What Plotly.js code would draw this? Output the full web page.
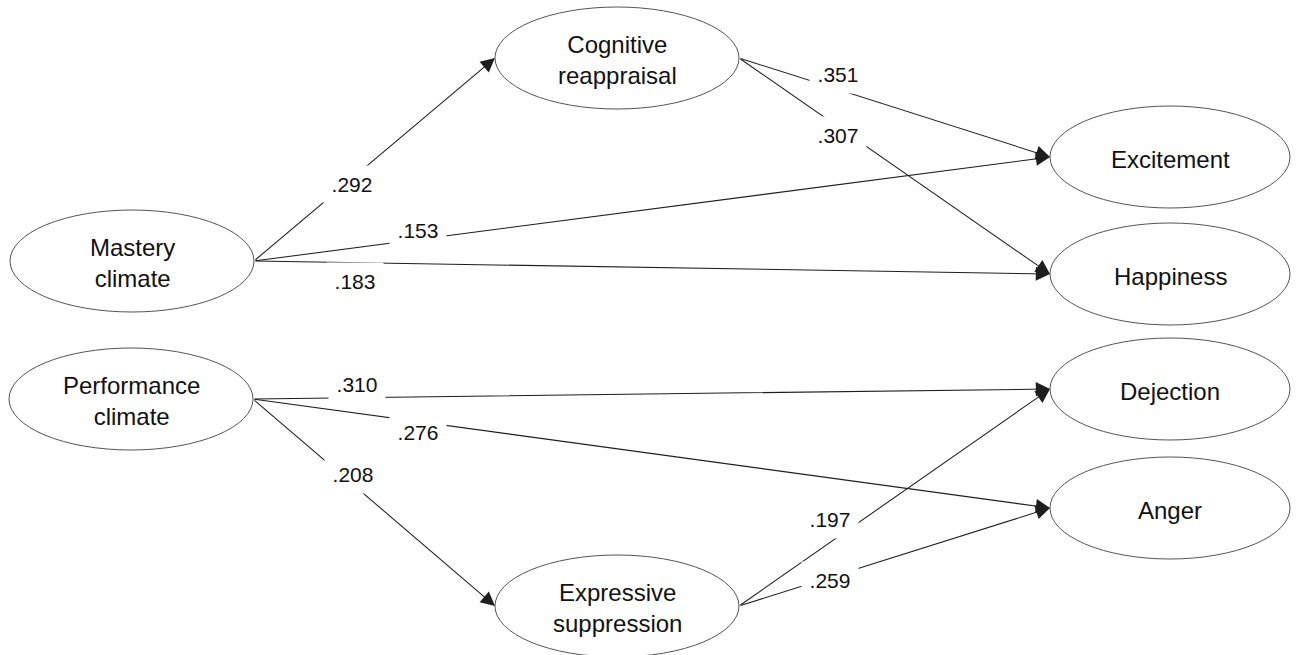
<!DOCTYPE html>
<html>
<head>
<meta charset="utf-8">
<script src="https://cdn.plot.ly/plotly-3.0.1.min.js"></script>
<style>
  html, body { margin: 0; padding: 0; background: #ffffff; }
  #chart { width: 1296px; height: 655px; }
</style>
</head>
<body>
<div id="chart"></div>
<script>
// ---------- DATA ----------
const nodeNames = [
  "Cognitive<br>reappraisal",
  "Mastery<br>climate",
  "Performance<br>climate",
  "Expressive<br>suppression",
  "Excitement",
  "Happiness",
  "Dejection",
  "Anger"
];
// paths (index into nodeNames)
const pathFrom = [1, 1, 1, 0, 0, 2, 2, 2, 3, 3];
const pathTo   = [0, 4, 5, 4, 5, 6, 7, 3, 6, 7];
const pathCoef = [0.292, 0.153, 0.183, 0.351, 0.307, 0.310, 0.276, 0.208, 0.197, 0.259];

// ---------- LAYOUT (positions / sizes, in pixels) ----------
const nodeCx = [617, 132, 131, 617, 1170, 1170, 1170, 1170];
const nodeCy = [58, 261, 399, 606, 157, 274, 389, 508];
const nodeRx = [122, 122, 122, 122, 120, 120, 120, 120];
const nodeRy = [51, 51, 51, 51, 51, 51, 51, 51];
const labelX = [352, 418, 355, 838, 838, 357, 418, 353, 830, 830];
const labelY = [184, 230, 281, 74, 135, 384, 432, 474, 519, 580];

const FONT = "Liberation Sans, Arial, Helvetica, sans-serif";
const fmt = v => v.toFixed(3).replace(/^0/, "");

const shapes = nodeNames.map((n, i) => ({
  type: "circle", xref: "x", yref: "y",
  x0: nodeCx[i] - nodeRx[i], x1: nodeCx[i] + nodeRx[i],
  y0: nodeCy[i] - nodeRy[i], y1: nodeCy[i] + nodeRy[i],
  line: { color: "#555555", width: 1 },
  fillcolor: "rgba(255,255,255,0)",
  layer: "below"
}));

const annotations = [];
// arrows: from right side of source to left side of target
pathFrom.forEach((f, k) => {
  const t = pathTo[k];
  annotations.push({
    xref: "x", yref: "y", axref: "x", ayref: "y",
    x: nodeCx[t] - nodeRx[t], y: nodeCy[t],
    ax: nodeCx[f] + nodeRx[f], ay: nodeCy[f],
    text: "", showarrow: true,
    arrowhead: 2, arrowsize: 2.7, arrowwidth: 1.05, arrowcolor: "#1e1e1e",
    standoff: 0, startstandoff: 0
  });
});
// coefficient labels with white boxes that interrupt the lines
pathCoef.forEach((c, k) => {
  annotations.push({
    xref: "x", yref: "y", x: labelX[k], y: labelY[k],
    text: fmt(c), showarrow: false,
    font: { family: FONT, size: 21, color: "#111111" },
    bgcolor: "#ffffff", width: 56, height: 37, borderpad: 0,
    xanchor: "center", yanchor: "middle"
  });
});
// node labels
nodeNames.forEach((n, i) => {
  annotations.push({
    xref: "x", yref: "y", x: nodeCx[i], y: nodeCy[i] + 2,
    text: n, showarrow: false,
    font: { family: FONT, size: 24, color: "#111111" },
    xanchor: "center", yanchor: "middle", align: "center"
  });
});

const layout = {
  width: 1296, height: 655,
  margin: { l: 0, r: 0, t: 0, b: 0, pad: 0 },
  paper_bgcolor: "#ffffff", plot_bgcolor: "#ffffff",
  showlegend: false,
  xaxis: { range: [0, 1296], visible: false, fixedrange: true },
  yaxis: { range: [655, 0], visible: false, fixedrange: true },
  shapes: shapes,
  annotations: annotations
};

Plotly.newPlot("chart", [{ x: [], y: [], type: "scatter", mode: "markers", hoverinfo: "skip" }], layout,
  { displayModeBar: false, staticPlot: true });
</script>
</body>
</html>
